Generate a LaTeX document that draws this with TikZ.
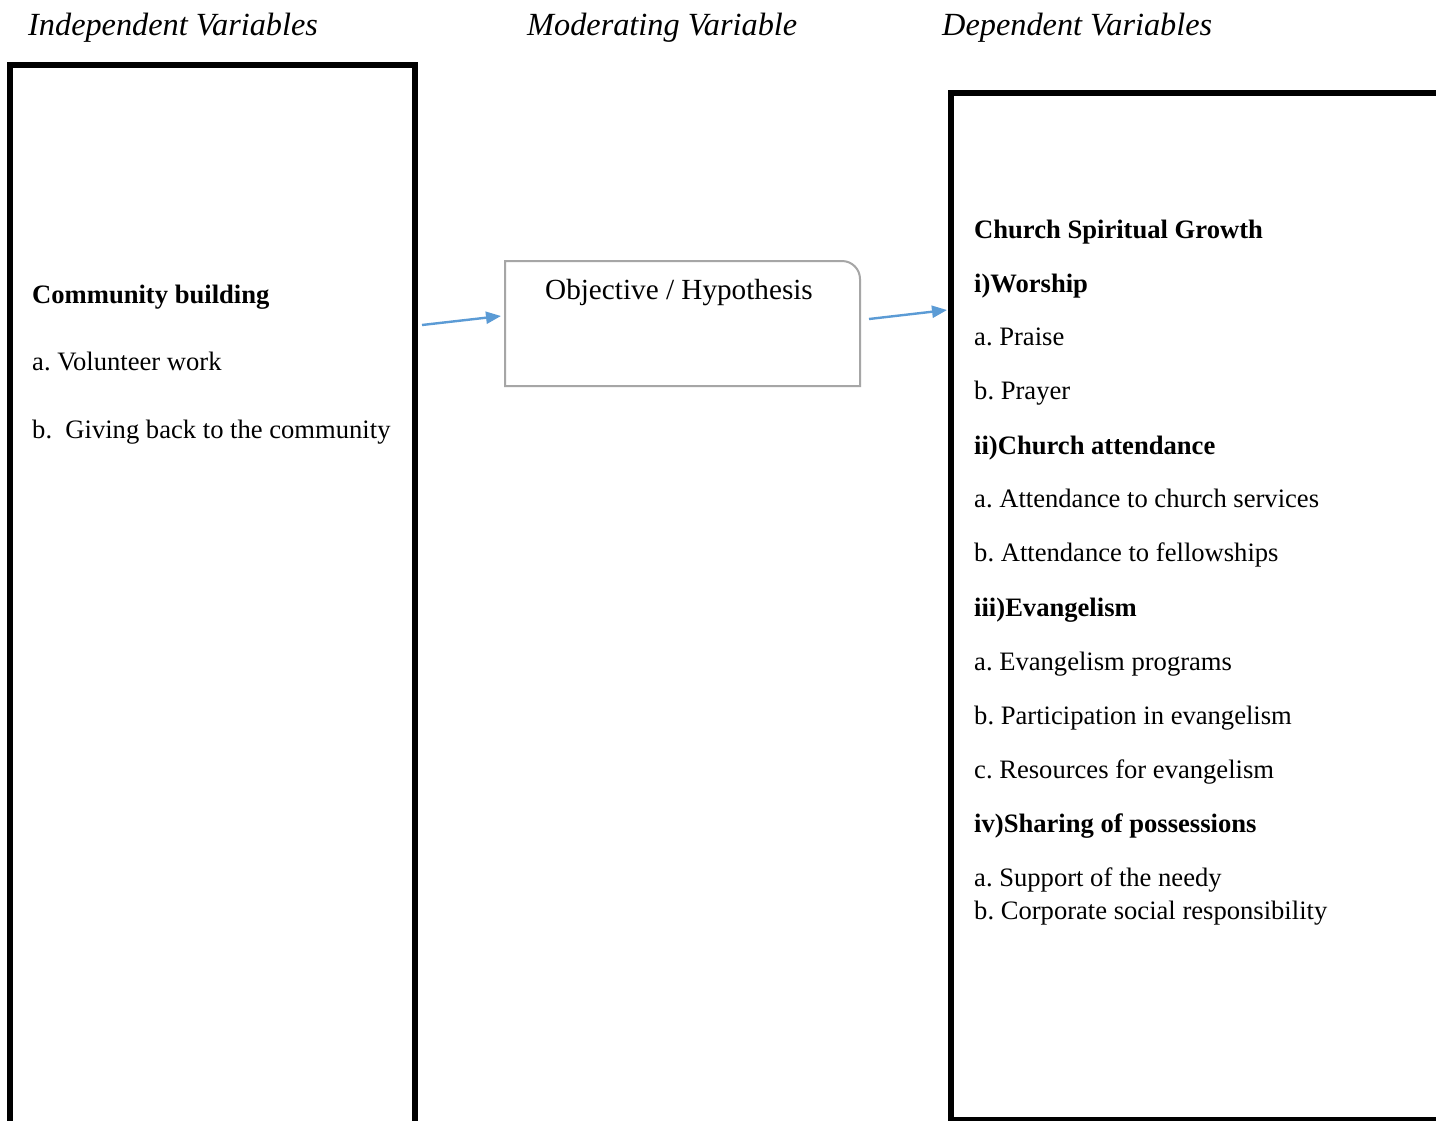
\documentclass[tikz,border=0pt]{standalone}
\usepackage{fontspec}
\setmainfont{Liberation Serif}
\usetikzlibrary{arrows.meta,calc}
\frenchspacing
\definecolor{arrowblue}{HTML}{5B9BD5}
\definecolor{boxgray}{HTML}{A6A6A6}
\tikzset{
  bigbox/.style={draw=black, line width=6pt, rectangle, inner sep=0pt, outer sep=0pt},
  title/.style={anchor=base west, inner sep=0pt, font=\fontsize{32.3}{36}\selectfont\itshape},
  item/.style={anchor=base west, inner sep=0pt, font=\fontsize{26.6}{30}\selectfont},
  head/.style={anchor=base west, inner sep=0pt, font=\fontsize{26.6}{30}\selectfont\bfseries},
  flow/.style={draw=arrowblue, line width=2.4pt, -{Triangle[length=15pt,width=12pt]}}
}
\begin{document}
\begin{tikzpicture}[x=1pt,y=-1pt]
\useasboundingbox (0,0) rectangle (1436,1120);
\clip (0,0) rectangle (1436,1120);
\fill[white] (0,0) rectangle (1436,1120);

% titles
\node[title] (t1) at (28,35) {Independent Variables};
\node[title] (t2) at (527,35) {Moderating Variable};
\node[title] (t3) at (942,35) {Dependent Variables};

% left box
\node[bigbox, minimum width=405pt, minimum height=1080pt, anchor=north west] (lb) at (10,65) {};
\node[head] (l0) at (32,303) {Community building};
\node[item] (l1) at (32,370) {a. Volunteer work};
\node[item] (l2) at (32,438) {b.\ \ Giving back to the community};

% middle box
\node[minimum width=355pt, minimum height=125pt, inner sep=0pt, outer sep=0pt, anchor=north west] (mb) at (505,261) {};
\draw[boxgray, line width=2pt] (mb.south west) -- (mb.north west) -- ($(mb.north east)+(-18,0)$) arc[start angle=-90, end angle=0, radius=18] -- (mb.south east) -- cycle;
\node[anchor=base, inner sep=0pt, font=\fontsize{29.2}{33}\selectfont] (mt) at (679,299) {Objective / Hypothesis};

% right box
\node[bigbox, minimum width=520pt, minimum height=1027pt, anchor=north west] (rb) at (951,93) {};
\node[head] (r0) at (974,238) {Church Spiritual Growth};
\node[head] (r1) at (974,292) {i)Worship};
\node[item] (r2) at (974,345) {a. Praise};
\node[item] (r3) at (974,399) {b. Prayer};
\node[head] (r4) at (974,454) {ii)Church attendance};
\node[item] (r5) at (974,507) {a. Attendance to church services};
\node[item] (r6) at (974,561) {b. Attendance to fellowships};
\node[head] (r7) at (974,616) {iii)Evangelism};
\node[item] (r8) at (974,670) {a. Evangelism programs};
\node[item] (r9) at (974,724) {b. Participation in evangelism};
\node[item] (r10) at (974,778) {c. Resources for evangelism};
\node[head] (r11) at (974,832) {iv)Sharing of possessions};
\node[item] (r12) at (974,886) {a. Support of the needy};
\node[item] (r13) at (974,919) {b. Corporate social responsibility};

% arrows
\coordinate (a1s) at (422,325);
\coordinate (a1e) at (501,316);
\coordinate (a2s) at (869,319);
\coordinate (a2e) at (947,310);
\draw[flow] (a1s) -- (a1e);
\draw[flow] (a2s) -- (a2e);
\end{tikzpicture}
\end{document}
